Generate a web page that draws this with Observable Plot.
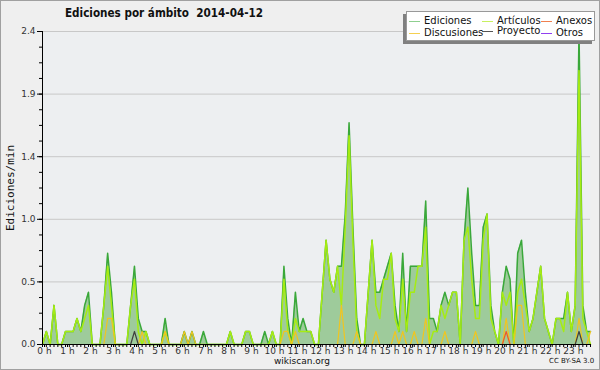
<!DOCTYPE html>
<html><head><meta charset="utf-8">
<script src="https://cdn.jsdelivr.net/npm/d3@7"></script>
<script src="https://cdn.jsdelivr.net/npm/@observablehq/plot@0.6"></script>
<style>
body{margin:0;background:#efefef;}
#wrap{position:relative;width:600px;height:370px;background:#efefef;overflow:hidden;font-family:"DejaVu Sans",sans-serif;color:#111;}
#wrap svg{position:absolute;left:0;top:0;}
#border{position:absolute;left:0;top:0;width:598px;height:368px;border:1px solid #a0a0a0;pointer-events:none;}
#title{position:absolute;left:0;width:328px;top:6px;text-align:center;font-weight:bold;font-size:12px;transform:scaleX(0.87);transform-origin:164px 0;}
#ylab{position:absolute;left:10px;top:188px;transform:translate(-50%,-50%) rotate(-90deg);font-size:11px;font-family:"DejaVu Sans Mono",monospace;white-space:nowrap;}
#legend{position:absolute;left:406px;top:11px;width:187px;height:28px;background:#fff;border:1px solid #999;box-shadow:-3px 3px 0 #808080;}
.li{position:absolute;font-size:10px;white-space:nowrap;line-height:10px;}
.li i{position:absolute;left:-15px;top:5px;width:11px;height:1px;}
#foot{position:absolute;left:0;width:604px;top:356px;text-align:center;font-size:9px;line-height:10px;}
#cc{position:absolute;left:549px;top:357px;font-size:7px;line-height:8px;}
</style></head>
<body>
<div id="wrap">
<div id="chart"></div>
<div id="title">Ediciones por ámbito&nbsp;&nbsp;2014-04-12</div>
<div id="ylab">Ediciones/min</div>
<div id="legend"></div>
<div id="foot">wikiscan.org</div>
<div id="cc">CC BY-SA 3.0</div>
<div id="border"></div>
</div>
<script>
// 10-minute bins (144 per day), edits per minute
const ediciones = [
 0,0.1,0,0.3,0,0, 0.1,0.1,0.1,0.2,0.1,0.3, 0.4,0,0,0,0.3,0.7, 0.4,0,0,0,0,0.3,
 0.6,0.2,0.1,0.1,0,0, 0,0,0.2,0,0,0, 0,0.1,0,0.1,0,0, 0.1,0,0,0,0,0,
 0,0.1,0,0,0,0.1, 0.1,0,0,0,0.1,0, 0.1,0,0,0.6,0.2,0, 0.4,0.1,0.2,0.1,0.1,0,
 0,0.4,0.8,0.5,0.4,0.6, 0.6,1.0,1.7,0.9,0.2,0, 0,0.4,0.8,0.4,0.4,0.5, 0.6,0.7,0.3,0.1,0.7,0.1,
 0.6,0.6,0.6,0.6,1.1,0.2, 0.2,0.1,0.3,0.4,0.3,0.4, 0.4,0,0.8,1.2,0.7,0.3, 0.3,0.9,1.0,0.3,0.1,0,
 0.4,0.6,0.5,0,0.7,0.8, 0.4,0.1,0.2,0.4,0.6,0.2, 0.1,0,0.2,0.2,0.2,0.4, 0.1,0.3,2.4,0.3,0.1,0.1
];
const articulos = [
 0,0.1,0,0.3,0,0, 0.1,0.1,0.1,0.2,0.1,0.2, 0.3,0,0,0,0.3,0.6, 0.3,0,0,0,0,0.3,
 0.5,0.1,0,0.1,0,0, 0,0,0.1,0,0,0, 0,0,0,0,0,0, 0,0,0,0,0,0,
 0,0.1,0,0,0,0.1, 0.1,0,0,0,0,0, 0.1,0,0,0.5,0.1,0, 0.2,0.1,0.1,0.1,0.1,0,
 0,0.4,0.8,0.5,0.4,0.6, 0.3,0.9,1.6,0.8,0.1,0, 0,0.4,0.8,0.3,0.2,0.5, 0.5,0.7,0.2,0.1,0.5,0.1,
 0.4,0.4,0.6,0.6,0.9,0, 0.1,0.1,0.3,0.2,0.3,0.4, 0.4,0,0.8,0.9,0.5,0.2, 0.2,0.8,1.0,0.2,0.1,0,
 0.4,0.3,0.4,0,0.4,0.5, 0.3,0.1,0.2,0.4,0.6,0.2, 0.1,0,0.2,0.2,0.1,0.4, 0.1,0.3,2.1,0.2,0.1,0
];
const discusiones = [
 0,0,0,0,0,0, 0,0,0,0,0,0, 0,0,0,0,0,0.2, 0.2,0,0,0,0,0,
 0,0,0.1,0,0,0, 0,0,0.1,0,0,0, 0,0.1,0,0.1,0,0, 0,0,0,0,0,0,
 0,0,0,0,0,0, 0,0,0,0,0,0, 0,0,0,0.1,0.1,0, 0.1,0,0,0,0,0,
 0,0,0,0,0,0, 0.3,0,0,0,0.1,0, 0,0,0,0.1,0,0, 0,0,0.1,0,0.1,0,
 0,0.1,0,0,0.2,0, 0,0,0,0.1,0,0, 0,0,0,0,0,0.1, 0,0,0,0,0,0,
 0,0.2,0,0,0.3,0.3, 0,0,0,0,0,0, 0,0,0,0,0,0, 0,0,0.2,0,0,0.1
];
const proyecto = [
 0,0,0,0,0,0, 0,0,0,0,0,0, 0,0,0,0,0,0, 0,0,0,0,0,0,
 0.1,0,0,0,0,0, 0,0,0,0,0,0, 0,0,0,0,0,0, 0,0,0,0,0,0,
 0,0,0,0,0,0, 0,0,0,0,0,0, 0,0,0,0,0,0, 0,0,0,0,0,0,
 0,0,0,0,0,0, 0,0,0,0,0,0, 0,0,0,0,0,0, 0,0,0,0,0,0,
 0,0,0,0,0,0, 0,0,0,0,0,0, 0,0,0,0,0,0, 0,0,0,0,0,0,
 0,0,0,0,0,0, 0,0,0,0,0,0, 0,0,0,0,0,0, 0,0,0.1,0,0,0
];
const anexos = [
 0,0,0,0,0,0, 0,0,0,0,0,0, 0,0,0,0,0,0, 0,0,0,0,0,0,
 0,0,0,0,0,0, 0,0,0,0,0,0, 0,0,0,0,0,0, 0,0,0,0,0,0,
 0,0,0,0,0,0, 0,0,0,0,0,0, 0,0,0,0,0,0, 0,0,0,0,0,0,
 0,0,0,0,0,0, 0,0,0,0,0,0, 0,0,0,0,0,0, 0,0,0,0,0,0,
 0,0,0,0,0,0, 0,0,0,0,0,0, 0,0,0,0,0,0, 0,0,0,0,0,0,
 0,0.1,0,0,0,0, 0,0,0,0,0,0, 0,0,0,0,0,0, 0,0,0,0,0,0
];
const otros = [
 0,0,0,0,0,0, 0,0,0,0,0,0, 0,0,0,0,0,0, 0,0,0,0,0,0,
 0,0,0,0,0,0, 0,0,0,0,0,0, 0,0,0,0,0,0, 0,0,0,0,0,0,
 0,0,0,0,0,0, 0,0,0,0,0,0, 0,0,0,0,0,0, 0,0,0,0,0,0,
 0,0,0,0,0,0, 0,0,0,0,0,0, 0,0,0,0,0,0, 0,0,0,0,0,0,
 0,0,0,0,0,0, 0,0,0,0,0,0, 0,0,0,0,0,0, 0,0,0,0,0,0,
 0,0,0,0,0,0, 0,0,0,0,0,0, 0,0,0,0,0,0, 0,0,0,0,0,0
];
const hourLabels = ["0 h","1 h","2 h","3 h","4 h","5 h","6 h","7 h","8 h","9 h","10 h","11 h","12 h","13 h","14 h","15 h","16 h","17 h","18 h","19 h","20 h","21 h","22 h","23 h"];
const yTicks = [0,0.48,0.96,1.44,1.92,2.4];
const yTickLabels = ["0.0","0.5","1.0","1.4","1.9","2.4"];
const seriesNames = ["Ediciones","Artículos","Anexos","Discusiones","Proyecto","Otros"];
const seriesColors = ["#8fcf8f","#c8f060","#f08050","#f5d050","#555555","#9040f0"];

const data = ediciones.map((e,i)=>({i, E:e, A:articulos[i], D:discusiones[i], P:proyecto[i], N:anexos[i], O:otros[i]}));
const yMinor = d3.range(0, 2.401, 0.12);
const hourTicks = hourLabels.map((_,h)=>h*6);

const chart = Plot.plot({
  width:600, height:370, marginTop:31, marginBottom:26, marginLeft:42, marginRight:10,
  style:{background:"transparent", fontFamily:"DejaVu Sans, sans-serif", fontSize:"9px", color:"#222"},
  x:{domain:[0,143], axis:null},
  y:{domain:[0,2.4], axis:null},
  marks:[
    Plot.frame({fill:"#edeff1", stroke:"none"}),
    Plot.ruleY(yTicks.slice(1), {stroke:"#c8c8c8", strokeWidth:1}),
    Plot.areaY(data,{x:"i", y:"E", fill:"#9ecb9b"}),
    Plot.lineY(data,{x:"i", y:"E", stroke:"#3aa83a", strokeWidth:1.5}),
    Plot.lineY(data,{x:"i", y:"A", stroke:"#a6ec12", strokeWidth:1.5}),
    Plot.lineY(data,{x:"i", y:"D", stroke:"#f0c520", strokeWidth:1.2}),
    Plot.lineY(data,{x:"i", y:"P", stroke:"#404040", strokeWidth:1.2}),
    Plot.lineY(data,{x:"i", y:"N", stroke:"#f05a28", strokeWidth:1.2}),
    Plot.lineY(data,{x:"i", y:"O", stroke:"#8a2be2", strokeWidth:1}),
    Plot.ruleX([0],{stroke:"#000"}),
    Plot.ruleY([0],{stroke:"#000"}),
    Plot.axisY(yTicks,{tickFormat:d=>yTickLabels[yTicks.indexOf(d)], tickSize:5, tickPadding:2, label:null, stroke:"#000", fill:"#333"}),
    Plot.axisY(yMinor,{tickFormat:()=>"", tickSize:3, label:null, stroke:"#000"}),
    Plot.axisX(hourTicks,{tickFormat:d=>hourLabels[d/6], tickSize:3, tickPadding:0, label:null, stroke:"#000", fill:"#333", dx:2, fontSize:9}),
    Plot.axisX(d3.range(0,144),{tickFormat:()=>"", tickSize:3, label:null, stroke:"#000"})
  ]
});
document.getElementById("chart").appendChild(chart);

const legend = document.getElementById("legend");
const pos = [[17,4],[90,4],[149,4],[17,16],[90,14],[149,16]];
seriesNames.forEach((n,k)=>{
  const d = document.createElement("div");
  d.className="li";
  d.style.left = pos[k][0]+"px"; d.style.top = pos[k][1]+"px";
  d.innerHTML = `<i style="background:${seriesColors[k]}"></i>${n}`;
  legend.appendChild(d);
});
</script>
</body></html>
